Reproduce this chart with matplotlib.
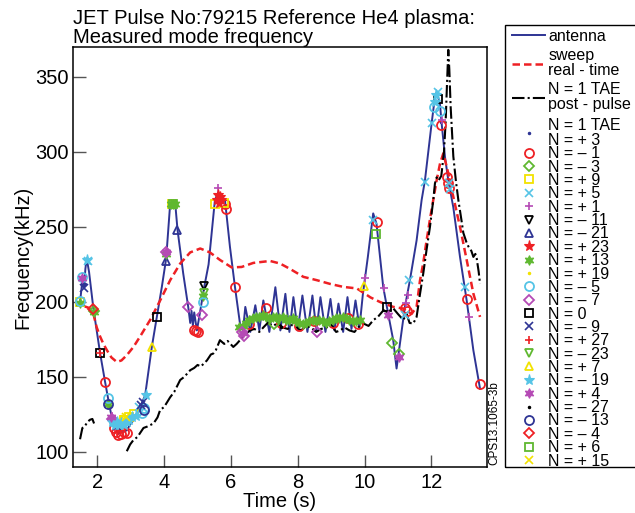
import numpy as np
import matplotlib.pyplot as plt
from matplotlib.patches import Rectangle

plt.rcParams['font.family'] = ['Liberation Sans', 'DejaVu Sans']

# antenna sweep (blue line)
antenna_t = [1.48, 1.52, 1.56, 1.60, 1.64, 1.68, 1.75, 1.88, 2.08, 2.23, 2.33, 2.43, 2.50,
             2.55, 2.63, 2.70, 2.75, 2.88, 3.00, 3.08, 3.18, 3.30, 3.43, 3.63, 3.78, 3.93,
             4.06, 4.18, 4.33, 4.40, 4.57, 4.72, 4.78, 4.82, 4.86, 4.90, 4.98, 5.05, 5.20,
             5.33, 5.52, 5.62, 5.82, 5.97, 6.12, 6.27,
             6.36, 6.43, 6.58, 6.73, 6.85, 6.97, 7.15, 7.33, 7.48, 7.63, 7.75, 7.87, 8.00,
             8.14, 8.29, 8.44, 8.56, 8.68, 8.83, 8.98, 9.10, 9.22, 9.36, 9.49, 9.61, 9.73,
             9.85, 9.95, 10.10, 10.26, 10.36, 10.56, 10.71, 10.86, 10.96, 11.21, 11.36,
             11.56, 11.71, 11.81, 12.01, 12.11, 12.16, 12.26, 12.31, 12.41, 12.51, 12.66,
             12.86, 13.06, 13.26, 13.46]
antenna_f = [200, 208, 216.8, 209, 222, 229, 220, 195.6, 166, 146.7, 134.5, 123, 118,
             116, 112, 114, 113, 114.5, 119, 121, 125.6, 131, 137.8, 170, 190, 210,
             229, 265.6, 265.8, 248, 219, 196.7, 186, 194, 184, 193, 181, 190, 210,
             225, 268, 273, 268, 236.7, 210, 185.6,
             181, 196.7, 180, 197.8, 181, 201, 180, 209.8, 181, 205.4, 180, 203.2, 181,
             204.3, 180, 204.3, 181, 203.2, 180, 202, 181, 198.9, 180, 203.2, 182, 201,
             183, 205, 230, 259, 252, 210, 192, 174.5, 155.6, 196.7, 214.5,
             241, 267.8, 281, 319, 336.7, 340, 332, 319, 296.7, 281, 263,
             230, 201, 167.8, 142.2]

# sweep real-time (red dashed)
sweep_t = [1.62, 1.75, 1.88, 1.98, 2.08, 2.18, 2.28, 2.42, 2.58, 2.72, 2.88, 3.08, 3.28,
           3.58, 3.88, 4.18, 4.48, 4.78, 5.08, 5.37, 5.67, 6.02, 6.32, 6.67, 7.17, 7.47,
           7.77, 8.17, 8.57, 8.97, 9.37, 9.77, 10.18, 10.46, 10.86, 11.16, 11.41, 11.56,
           11.66, 11.76, 11.86, 11.96, 12.06, 12.16, 12.26, 12.36, 12.44, 12.51, 12.66,
           12.86, 13.06, 13.26, 13.46]
sweep_f = [197, 196, 192, 183, 177, 172, 168, 163, 160, 161, 164.5, 170, 177,
           188, 201, 214.5, 225.6, 233, 235.6, 233, 228, 223, 223.3, 226, 227.3, 225.6,
           222, 216.7, 214.5, 212, 210, 209, 203, 200, 196.7, 195.6, 192, 196.7,
           214, 226, 241, 255, 268, 281, 292, 299, 292, 285.6, 270,
           250, 228, 205.6, 190]

# N = 1 TAE post-pulse (black dash-dot), gap marked by nan
post_t = [1.48, 1.55, 1.62, 1.70, 1.78, 1.85, 1.90, np.nan,
          2.88, 2.98, 3.08, 3.20, 3.38, 3.50, 3.68, 3.80, 3.88, 4.00, 4.18, 4.30, 4.48,
          4.60, 4.78, 4.90, 5.00, 5.10, 5.28, 5.40, 5.47, 5.55, 5.67, 5.80, 5.90, 6.07,
          6.17, 6.27, 6.40, 6.57, 6.70, 6.85, 6.97, 7.10, 7.27, 7.40, 7.55, 7.70, 7.85,
          7.97, 8.10, 8.25, 8.40, 8.55, 8.70, 8.87, 9.00, 9.15, 9.27, 9.40, 9.55, 9.70,
          9.85, 9.97, 10.12, 10.27, 10.40, 10.57, 10.70, 10.85, 11.00, 11.16, 11.26,
          11.35, 11.46, 11.56, 11.66, 11.76, 11.86, 11.96, 12.06, 12.11, 12.16, 12.22,
          12.30, 12.38, 12.43, 12.47, 12.51, 12.54, 12.58, 12.66, 12.74, 12.81, 12.90,
          12.96, 13.05, 13.11, 13.20, 13.26, 13.32, 13.36, 13.42, 13.46]
post_f = [108.5, 116, 117, 120, 121.5, 122, 119, np.nan,
          100.5, 105, 108, 110, 116, 117, 119, 123, 128, 130, 136.5, 140, 148,
          150, 154.5, 156, 158, 157, 161, 165, 165.6, 168, 174.5, 172, 174, 170,
          172, 174.5, 178, 181, 182, 180, 183, 186, 184, 186, 183, 182, 185,
          183, 181, 184, 183, 180, 182, 183, 185, 180, 181, 183, 181, 180,
          184, 185.6, 184, 188, 190, 194.5, 193, 196, 192, 188, 192,
          186, 185.6, 190, 205, 219, 235, 250, 268, 279, 283, 281,
          284, 300, 320, 345, 368, 355, 330, 297, 280, 268, 255,
          246, 240, 237, 234, 230, 232, 229, 220, 212]

# measured modes: (times, frequencies)
n_p3 = ([1.62, 3.35, 12.28], [212, 131, 320])
n_m1 = ([2.23, 2.50, 2.57, 2.63, 2.72, 2.80, 2.88, 4.88, 4.95, 5.02, 5.82, 5.86, 6.12,
         6.55, 7.05, 7.50, 8.05, 8.50, 9.05, 9.50, 9.80, 10.36, 11.22, 11.26, 12.29,
         12.47, 12.50, 12.53, 13.06, 13.46],
        [146.5, 116, 113, 111.5, 112, 113, 112.5, 181.5, 180.5, 180, 265, 262, 210,
         185, 196, 186, 184, 187, 186, 189, 185, 253, 196, 194, 318,
         283, 279, 276, 202, 145.6])
n_m3 = ([1.90, 7.30, 10.83, 11.04], [194, 185, 172.7, 165.6])
n_p9 = ([1.48, 2.80, 2.95, 3.10, 4.22, 5.52, 5.78], [200, 121, 123, 125, 265, 265, 266])
n_p5 = ([1.71, 3.25, 10.26, 11.20, 11.34, 11.81, 12.01, 12.20, 12.52, 12.55, 13.01],
        [227, 130, 254.5, 191, 214.5, 280, 319, 340, 279, 275, 210])
n_p1 = ([2.45, 4.08, 5.62, 10.02, 10.58, 11.04, 11.24, 11.31, 12.31, 13.14],
        [124, 234, 276, 216, 209, 163, 199, 204.5, 321, 190])
n_m11 = ([5.19], [210.5])
n_m21 = ([4.04, 4.38], [227, 247.8])
n_p23 = ([5.58, 5.62, 5.66, 5.70, 5.64], [268, 271, 270, 268, 266])
n_p13 = ([1.48, 1.90, 2.33, 4.06, 4.20, 4.26, 4.31, 5.17,
          6.25, 6.35, 6.45, 6.55, 6.65, 6.75, 6.85, 6.95, 7.05, 7.15, 7.25, 7.35, 7.45,
          7.55, 7.65, 7.75, 7.85, 7.95, 8.05, 8.15, 8.25, 8.35, 8.45, 8.55, 8.65, 8.75,
          8.85, 8.95, 9.05, 9.15, 9.25, 9.35, 9.45, 9.55, 9.65, 9.75, 9.85],
         [199, 193, 132, 232, 265, 265.5, 265, 203.8,
          183, 184, 186, 188, 189, 190, 190, 191, 190, 189, 190, 190, 189,
          190, 188, 188, 189, 187, 186, 185, 186, 187, 188, 187, 188, 187,
          186, 187, 188, 189, 189, 190, 189, 188, 187, 187, 188])
n_p19 = ([2.70, 3.00], [124, 122])
n_m5 = ([1.48, 1.55, 2.32, 2.50, 3.33, 3.40, 5.15, 12.08, 12.25],
        [200.5, 216.5, 136, 120, 126, 129, 200, 330, 327])
n_m7 = ([2.43, 4.06, 4.72, 5.12, 6.33, 6.40, 8.57], [122, 233, 196.7, 191, 180, 177.5, 180])
n_0 = ([2.08, 3.80, 10.68, 12.20], [166, 190, 196.7, 335])
n_m9 = ([1.60, 2.60, 3.30, 3.36], [209, 117, 131, 133])
n_p27 = ([2.08, 2.62], [166, 114])
n_m23 = ([5.18], [206])
n_p7 = ([2.75, 3.63, 9.99], [121, 170, 210.4])
n_m19 = ([1.70, 2.45, 2.52, 2.58, 2.65, 2.72, 2.80, 2.88, 2.96, 3.05, 3.15, 3.46, 12.10, 12.15],
         [228, 120, 118, 120, 118, 119, 118, 120, 121, 123, 124, 138, 333, 338])
n_p4 = ([1.55, 2.40, 4.06, 6.35, 10.71, 11.03], [216, 123, 233.5, 179, 191, 163])
n_m27 = ([7.50], [183])
n_m13 = ([2.33, 3.40], [132, 128])
n_m4 = ([1.88], [195])
n_p6 = ([4.27, 10.34], [265, 245])
n_p15 = ([2.85], [123])

modes = [n_p3, n_m1, n_m3, n_p9, n_p5, n_p1, n_m11, n_m21, n_p23, n_p13, n_p19, n_m5,
         n_m7, n_0, n_m9, n_p27, n_m23, n_p7, n_m19, n_p4, n_m27, n_m13, n_m4, n_p6, n_p15]
mode_labels = ['N = 1 TAE\nN = + 3', 'N = \u2013 1', 'N = \u2013 3', 'N = + 9', 'N = + 5',
               'N = + 1', 'N = \u2013 11', 'N = \u2013 21', 'N = + 23', 'N = + 13',
               'N = + 19', 'N = \u2013 5', 'N = \u2013 7', 'N = 0', 'N = \u2013 9',
               'N = + 27', 'N = \u2013 23', 'N = + 7', 'N = \u2013 19', 'N = + 4',
               'N = \u2013 27', 'N = \u2013 13', 'N = \u2013 4', 'N = + 6', 'N = + 15']

BLUE = '#2e3494'
RED = '#ee2024'
GREEN = '#5fb830'
YELLOW = '#f2e200'
CYAN = '#55c4e6'
MAGENTA = '#b54ab5'
BLACK = '#000000'
colors = [BLUE, RED, GREEN, YELLOW, CYAN, MAGENTA, BLACK]
hexagram = (6, 1, 0)
markers = ['.', 'o', 'D', 's', 'x', '+', 'v', '^', '*', hexagram]
filled = {'*', hexagram}

fig = plt.figure(figsize=(6.35, 5.13), dpi=100)
ax = fig.add_axes([0.115, 0.0897, 0.652, 0.819])

h_ant, = ax.plot(antenna_t, antenna_f, color=BLUE, lw=1.4, label='antenna')
h_sw, = ax.plot(sweep_t, sweep_f, color=RED, lw=1.8, dashes=(3, 1.6),
                label='sweep\nreal - time')
h_pp, = ax.plot(post_t, post_f, color=BLACK, lw=1.5, dashes=(6, 1.5, 1, 1.5),
                label='N = 1 TAE\npost - pulse')

mark_handles = []
for i, (pts, lab) in enumerate(zip(modes, mode_labels)):
    m = markers[i % len(markers)]
    c = colors[i % len(colors)]
    if m == '.':
        kw = dict(color=c, markersize=3)
    elif m in ('x', '+'):
        kw = dict(color=c, markersize=6, markeredgewidth=1.2)
    elif m in filled:
        kw = dict(color=c, markersize=8 if m == '*' else 7, markeredgewidth=0.8)
    else:
        kw = dict(markeredgecolor=c, markerfacecolor='none',
                  markersize=6.5 if m == 'o' else 5.5, markeredgewidth=1.3)
    h, = ax.plot(pts[0], pts[1], linestyle='none', marker=m, label=lab, **kw)
    mark_handles.append(h)

ax.set_xlim(1.27, 13.67)
ax.set_ylim(90, 370)
ax.set_xticks([2, 4, 6, 8, 10, 12])
ax.set_yticks([100, 150, 200, 250, 300, 350])
ax.tick_params(direction='in', length=9, width=1, color='#555555',
               labelsize=14.5, pad=4)
ax.tick_params(axis='y', pad=3)
for s in ax.spines.values():
    s.set_linewidth(1.1)

ax.set_xlabel('Time (s)', fontsize=14.5, labelpad=0)
ax.set_ylabel('Frequency(kHz)', fontsize=14.5, labelpad=2)
ax.set_title('JET Pulse No:79215 Reference He4 plasma:\nMeasured mode frequency',
             loc='left', fontsize=14.5, pad=3, linespacing=0.95)

# legend: line entries and mode entries in one shared frame
leg_kw = dict(loc='upper left', bbox_transform=fig.transFigure, fontsize=11.5,
              frameon=False, borderpad=0, borderaxespad=0, handlelength=2.07,
              handletextpad=0.19, numpoints=1)
leg1 = ax.legend(handles=[h_ant, h_sw, h_pp], bbox_to_anchor=(512 / 635, 1 - 29 / 513),
                 labelspacing=0.26, **leg_kw)
for t in leg1.get_texts():
    t.set_linespacing(1.0)
ax.add_artist(leg1)
leg2 = ax.legend(handles=mark_handles, bbox_to_anchor=(512 / 635, 1 - 118 / 513),
                 labelspacing=-0.103, **leg_kw)
for t in leg2.get_texts():
    t.set_linespacing(1.0)

fig.add_artist(Rectangle((505 / 635, 46 / 513), 0.3, (467 - 25) / 513,
                         transform=fig.transFigure, fill=False,
                         edgecolor='black', lw=1.0))

fig.text(0.778, 0.094, 'CPS13.1065-3b', rotation=90, fontsize=8.5,
         ha='center', va='bottom')

fig.savefig('out.png', dpi=100)
